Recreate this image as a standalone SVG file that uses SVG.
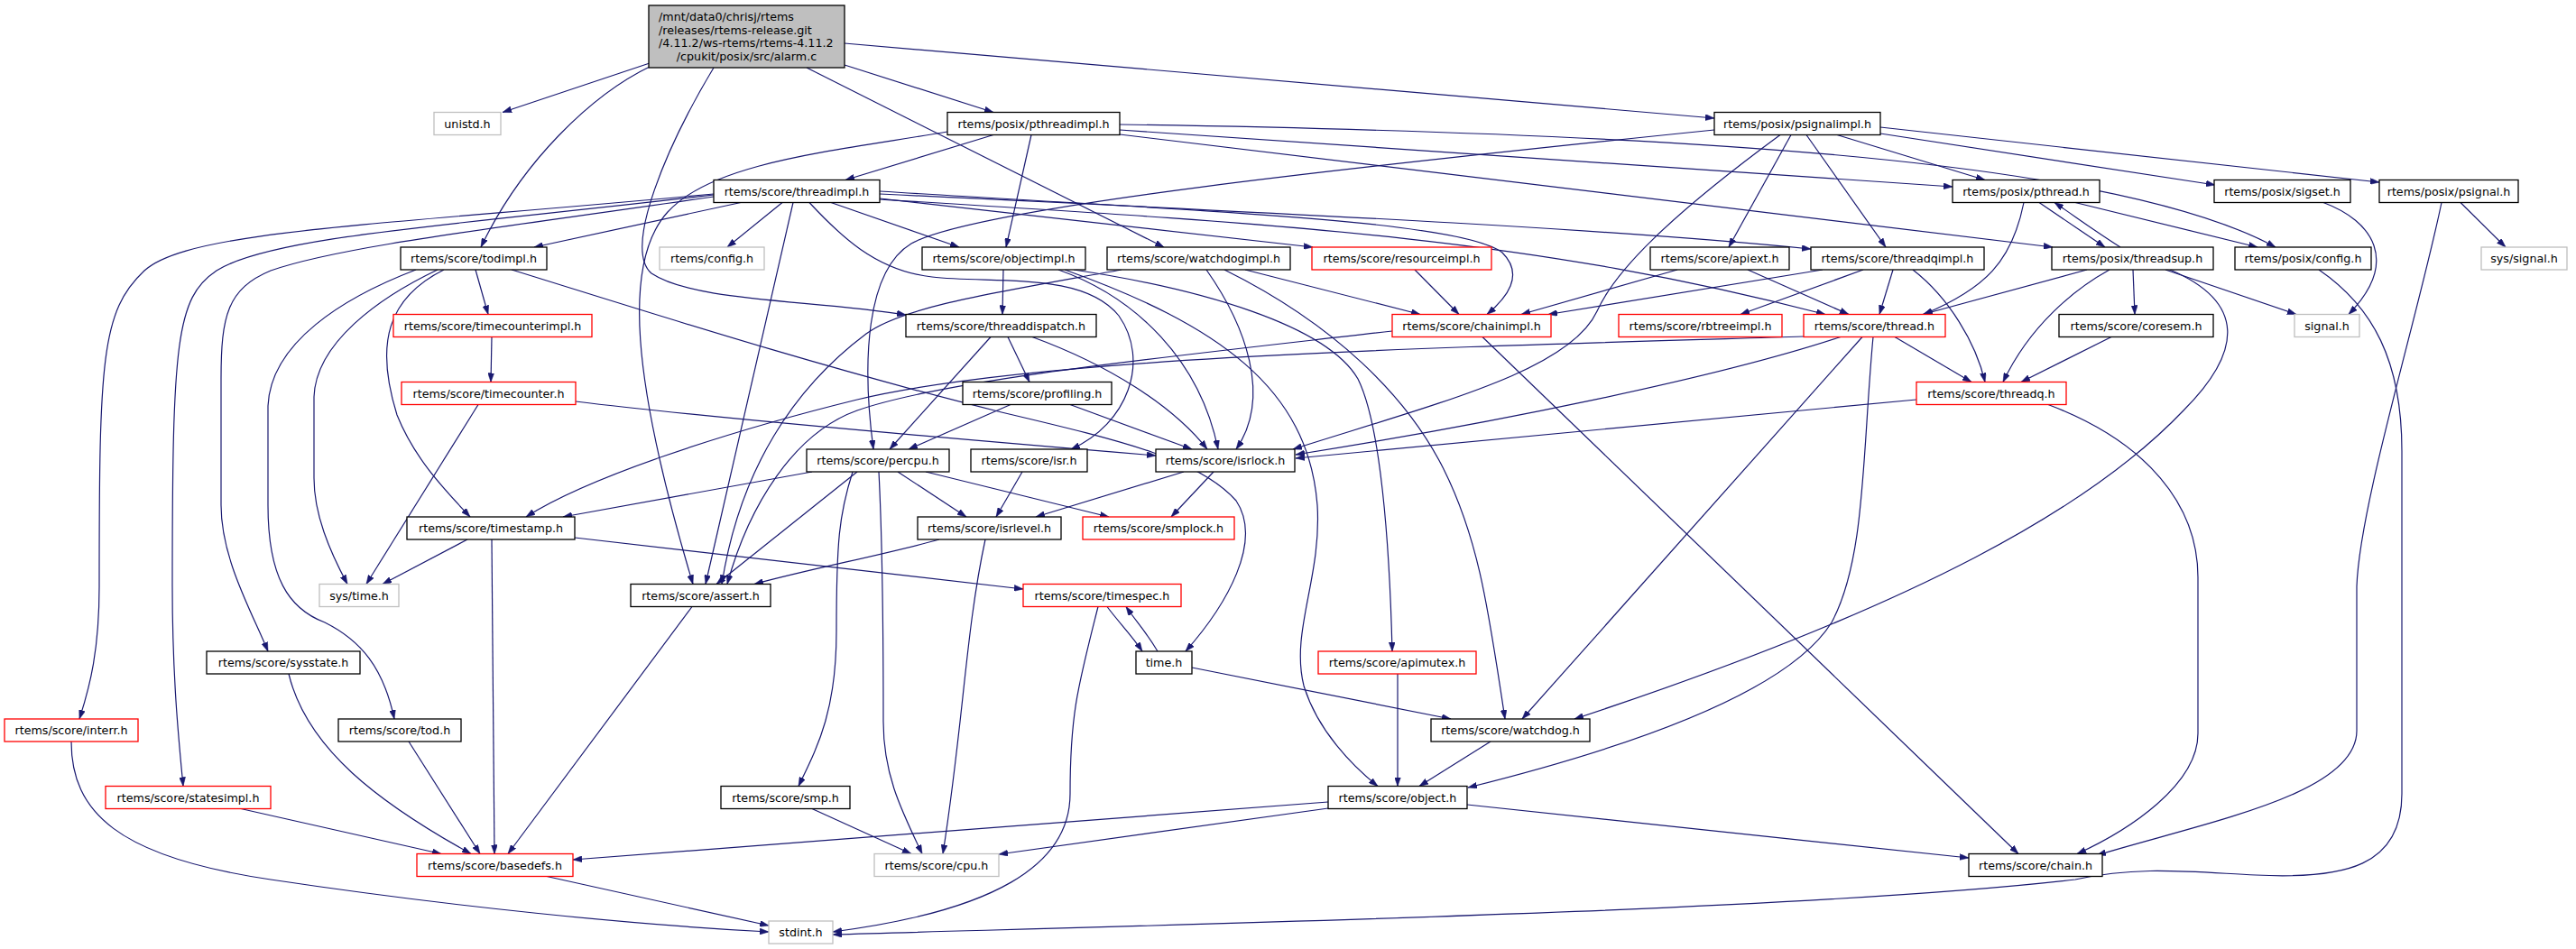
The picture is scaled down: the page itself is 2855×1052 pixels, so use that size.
<svg xmlns="http://www.w3.org/2000/svg" width="2855" height="1052" viewBox="0 0 2855 1052">
<style>
rect{fill:#fff;stroke:#000;stroke-width:1.3}
.r rect{stroke:#ff0000}
.g rect{stroke:#bfbfbf}
.root rect{fill:#bfbfbf}
text{font-family:"DejaVu Sans","Liberation Sans",sans-serif;font-size:12.7px;text-anchor:middle;fill:#000}
.e path{fill:none;stroke:#191970;stroke-width:1.2;marker-end:url(#a)}
</style>
<defs>
<marker id="a" viewBox="0 0 10 7" refX="10" refY="3.5" markerWidth="10" markerHeight="7" markerUnits="userSpaceOnUse" orient="auto"><path d="M0,0L10,3.5L0,7z" fill="#191970" stroke="#191970" stroke-width="0.5"/></marker>
</defs>
<rect x="0" y="0" width="2855" height="1052" style="fill:#fff;stroke:none"/>
<g class="e" id="edges">
<path d="M720,70 L557,124.5"/>
<path d="M722,73 C655,105 578,180 533,274"/>
<path d="M791,75 C740,160 690,275 722,303 C770,335 900,332 1004,349"/>
<path d="M894,75 L1290,274"/>
<path d="M936,72 L1101,124.5"/>
<path d="M936,48 L1900,131"/>
<path d="M1050,146 C920,168 790,180 740,235 C690,290 700,420 768,647.5"/>
<path d="M1101,149.5 L937,199.5"/>
<path d="M1143,149.5 L1115,274"/>
<path d="M1241,138 C1900,148 2350,180 2522,274"/>
<path d="M1241,144 L2164,207"/>
<path d="M1241,149 L2275,274"/>
<path d="M1900,144 C1500,185 1080,230 1010,270 C960,300 955,400 968,498"/>
<path d="M1973,149.5 C1850,240 1790,300 1770,345 C1740,410 1600,445 1433,498"/>
<path d="M2036,149.5 L2200,199.5"/>
<path d="M1985,149.5 L1916,274"/>
<path d="M2002,149.5 L2090,274"/>
<path d="M2084,148 L2455,205"/>
<path d="M2084,141 L2637,202"/>
<path d="M791,215 C420,250 210,255 160,300 C112,345 110,400 110,650 C110,720 100,760 88,797"/>
<path d="M791,216 C500,250 300,262 240,300 C195,330 191,380 191,650 C191,750 198,820 203,871.5"/>
<path d="M791,218 C560,252 380,272 300,300 C252,320 245,350 245,420 L245,560 C245,620 280,680 297,722"/>
<path d="M821,224.5 L592,274"/>
<path d="M867,224.5 L806,274"/>
<path d="M879,224.5 L782,647.5"/>
<path d="M921,224.5 L1063,274"/>
<path d="M897,224.5 C930,260 970,300 1033,307 C1100,315 1200,300 1240,350 C1275,400 1250,470 1187,498"/>
<path d="M975,220 L1455,274"/>
<path d="M975,212 C1350,235 1620,245 1665,280 C1690,305 1670,330 1648,348.5"/>
<path d="M975,215 C1500,240 1800,255 2007,276"/>
<path d="M975,221 C1450,250 1700,265 2023,348.5"/>
<path d="M527,299 L541,348.5"/>
<path d="M461,299 C380,330 300,380 297,450 L297,560 C297,640 320,675 360,690 C400,710 425,740 437,797"/>
<path d="M485,299 C420,330 350,380 348,440 L348,530 C348,570 365,610 385,647.5"/>
<path d="M492,299 C430,330 415,380 440,460 C460,510 495,545 521,573"/>
<path d="M567,299 C700,340 900,405 1110,457 C1250,490 1330,510 1370,555 C1400,600 1360,670 1314,722"/>
<path d="M545,373.5 L544,423.5"/>
<path d="M530,448.5 L406,647.5"/>
<path d="M638,445 C800,465 1100,490 1281,505"/>
<path d="M518,598 L424,647.5"/>
<path d="M545,598 L548,946.5"/>
<path d="M637,596 L1134,653"/>
<path d="M900,523 L624,573"/>
<path d="M950,523 L794,647.5"/>
<path d="M995,523 L1071,573"/>
<path d="M1026,523 L1229,573"/>
<path d="M945,523 C930,570 927,600 927,700 C927,790 905,830 885,871.5"/>
<path d="M974,523 C978,600 979,700 979,800 C979,860 1000,900 1022,946.5"/>
<path d="M1098,373.5 L986,498"/>
<path d="M1117,373.5 L1141,423.5"/>
<path d="M1144,373.5 C1230,405 1300,450 1338,498"/>
<path d="M1120,448.5 L1007,498"/>
<path d="M1186,448.5 L1321,498"/>
<path d="M1133,523 L1104,573"/>
<path d="M1312,523 L1148,573"/>
<path d="M1345,523 L1298,573"/>
<path d="M1041,598 C980,615 900,630 836,647.5"/>
<path d="M1092,598 C1070,700 1068,800 1045,946.5"/>
<path d="M1227,672.5 C1240,690 1255,705 1266,722"/>
<path d="M1217,672.5 C1195,760 1186,790 1186,880 C1186,960 1100,1010 923,1033"/>
<path d="M1283,722 C1270,700 1260,690 1248,672.5"/>
<path d="M1321,740 L1608,797"/>
<path d="M1549,747 L1549,871.5"/>
<path d="M1652,822 L1573,871.5"/>
<path d="M1472,896 L1107,947"/>
<path d="M1472,889 L635,953"/>
<path d="M1626,892 L2182,951"/>
<path d="M900,896.5 L1010,946.5"/>
<path d="M606,971.5 L852,1026"/>
<path d="M79,822 C79,900 130,950 300,975 C500,1005 700,1025 852,1033"/>
<path d="M267,896.5 L489,946.5"/>
<path d="M320,747 C340,830 420,890 522,946.5"/>
<path d="M453,822 L532,946.5"/>
<path d="M767,672.5 L563,946.5"/>
<path d="M1643,373.5 L2237,946.5"/>
<path d="M1543,367 C1300,395 1050,420 950,455 C880,480 830,560 806,647.5"/>
<path d="M1568,299 L1617,348.5"/>
<path d="M1380,299 L1574,348.5"/>
<path d="M1243,299 C1100,325 1000,340 960,370 C880,430 820,520 800,647.5"/>
<path d="M1337,299 C1380,360 1410,440 1370,498"/>
<path d="M1357,299 C1480,360 1560,440 1600,520 C1640,600 1650,680 1668,797"/>
<path d="M1112,299 L1111,348.5"/>
<path d="M1173,299 C1260,330 1330,400 1350,498"/>
<path d="M1180,299 C1350,360 1450,430 1460,560 C1465,640 1430,700 1445,760 C1460,810 1500,850 1527,871.5"/>
<path d="M1190,299 C1330,320 1470,360 1505,420 C1530,470 1540,600 1543,722"/>
<path d="M1859,299 L1686,348.5"/>
<path d="M1937,299 L2049,348.5"/>
<path d="M2020,299 L1716,348.5"/>
<path d="M2065,299 L1929,348.5"/>
<path d="M2098,299 L2083,348.5"/>
<path d="M2120,299 C2160,330 2190,380 2200,423.5"/>
<path d="M2100,373.5 L2185,423.5"/>
<path d="M2040,373.5 C1900,420 1650,470 1436,504"/>
<path d="M1999,373 C1600,385 1150,395 950,443 C800,480 650,530 583,573"/>
<path d="M2064,373.5 L1687,797"/>
<path d="M2076,373.5 C2064,500 2068,620 2030,690 C1980,770 1800,830 1627,873"/>
<path d="M2124,443 L1436,508"/>
<path d="M2270,448.5 C2380,490 2436,560 2436,640 L2436,813 C2436,870 2360,920 2302,946.5"/>
<path d="M2350,274 C2320,255 2300,240 2277,224.5"/>
<path d="M2313,299 L2131,348.5"/>
<path d="M2338,299 C2300,320 2250,360 2220,423.5"/>
<path d="M2364,299 L2366,348.5"/>
<path d="M2400,299 L2545,348.5"/>
<path d="M2405,299 C2490,335 2485,390 2420,455 C2320,560 2130,670 1745,797"/>
<path d="M2260,224.5 L2333,274"/>
<path d="M2243,224.5 C2230,290 2200,320 2132,348.5"/>
<path d="M2300,224.5 L2502,274"/>
<path d="M2575,224.5 C2630,245 2660,290 2603,348.5"/>
<path d="M2727,224.5 L2777,274"/>
<path d="M2706,224.5 C2680,350 2615,560 2612,650 L2612,810 C2612,880 2450,910 2324,948"/>
<path d="M2570,299 C2630,340 2662,400 2662,500 L2662,880 C2662,960 2600,975 2500,970 C2420,966 2370,960 2300,975 C2000,1010 1300,1025 923,1036"/>
<path d="M2340,373.5 L2240,423.5"/>
</g>
<g id="n_alarm" class="root"><rect x="719" y="6" width="217" height="69"/>
<text x="730" y="23" style="text-anchor:start">/mnt/data0/chrisj/rtems</text>
<text x="730" y="37.5" style="text-anchor:start">/releases/rtems-release.git</text>
<text x="730" y="52" style="text-anchor:start">/4.11.2/ws-rtems/rtems-4.11.2</text>
<text x="827.5" y="66.5">/cpukit/posix/src/alarm.c</text></g>
<g id="n_unistd" class="g"><rect x="481" y="124.5" width="74" height="25"/><text x="518" y="141.5">unistd.h</text></g>
<g id="n_pthreadimpl"><rect x="1050" y="124.5" width="191" height="25"/><text x="1145.5" y="141.5">rtems/posix/pthreadimpl.h</text></g>
<g id="n_psignalimpl"><rect x="1900" y="124.5" width="184" height="25"/><text x="1992" y="141.5">rtems/posix/psignalimpl.h</text></g>
<g id="n_threadimpl"><rect x="791" y="199.5" width="184" height="25"/><text x="883" y="216.5">rtems/score/threadimpl.h</text></g>
<g id="n_pthread"><rect x="2164" y="199.5" width="163" height="25"/><text x="2245.5" y="216.5">rtems/posix/pthread.h</text></g>
<g id="n_sigset"><rect x="2454" y="199.5" width="151" height="25"/><text x="2529.5" y="216.5">rtems/posix/sigset.h</text></g>
<g id="n_psignal"><rect x="2637" y="199.5" width="154" height="25"/><text x="2714" y="216.5">rtems/posix/psignal.h</text></g>
<g id="n_todimpl"><rect x="444" y="274" width="162" height="25"/><text x="525" y="291">rtems/score/todimpl.h</text></g>
<g id="n_config" class="g"><rect x="731" y="274" width="116" height="25"/><text x="789" y="291">rtems/config.h</text></g>
<g id="n_objectimpl"><rect x="1022" y="274" width="181" height="25"/><text x="1112.5" y="291">rtems/score/objectimpl.h</text></g>
<g id="n_watchdogimpl"><rect x="1227" y="274" width="203" height="25"/><text x="1328.5" y="291">rtems/score/watchdogimpl.h</text></g>
<g id="n_resourceimpl" class="r"><rect x="1454" y="274" width="199" height="25"/><text x="1553.5" y="291">rtems/score/resourceimpl.h</text></g>
<g id="n_apiext"><rect x="1829" y="274" width="154" height="25"/><text x="1906" y="291">rtems/score/apiext.h</text></g>
<g id="n_threadqimpl"><rect x="2007" y="274" width="192" height="25"/><text x="2103" y="291">rtems/score/threadqimpl.h</text></g>
<g id="n_threadsup"><rect x="2274" y="274" width="179" height="25"/><text x="2363.5" y="291">rtems/posix/threadsup.h</text></g>
<g id="n_posixconfig"><rect x="2477" y="274" width="151" height="25"/><text x="2552.5" y="291">rtems/posix/config.h</text></g>
<g id="n_syssignal" class="g"><rect x="2750" y="274" width="95" height="25"/><text x="2797.5" y="291">sys/signal.h</text></g>
<g id="n_timecounterimpl" class="r"><rect x="436" y="348.5" width="220" height="25"/><text x="546" y="365.5">rtems/score/timecounterimpl.h</text></g>
<g id="n_threaddispatch"><rect x="1004" y="348.5" width="211" height="25"/><text x="1109.5" y="365.5">rtems/score/threaddispatch.h</text></g>
<g id="n_chainimpl" class="r"><rect x="1543" y="348.5" width="176" height="25"/><text x="1631" y="365.5">rtems/score/chainimpl.h</text></g>
<g id="n_rbtreeimpl" class="r"><rect x="1794" y="348.5" width="181" height="25"/><text x="1884.5" y="365.5">rtems/score/rbtreeimpl.h</text></g>
<g id="n_thread" class="r"><rect x="1999" y="348.5" width="157" height="25"/><text x="2077.5" y="365.5">rtems/score/thread.h</text></g>
<g id="n_coresem"><rect x="2282" y="348.5" width="171" height="25"/><text x="2367.5" y="365.5">rtems/score/coresem.h</text></g>
<g id="n_signal" class="g"><rect x="2543" y="348.5" width="72" height="25"/><text x="2579" y="365.5">signal.h</text></g>
<g id="n_timecounter" class="r"><rect x="445" y="423.5" width="193" height="25"/><text x="541.5" y="440.5">rtems/score/timecounter.h</text></g>
<g id="n_profiling"><rect x="1067" y="423.5" width="165" height="25"/><text x="1149.5" y="440.5">rtems/score/profiling.h</text></g>
<g id="n_threadq" class="r"><rect x="2124" y="423.5" width="166" height="25"/><text x="2207" y="440.5">rtems/score/threadq.h</text></g>
<g id="n_percpu"><rect x="894" y="498" width="158" height="25"/><text x="973" y="515">rtems/score/percpu.h</text></g>
<g id="n_isr"><rect x="1076" y="498" width="129" height="25"/><text x="1140.5" y="515">rtems/score/isr.h</text></g>
<g id="n_isrlock"><rect x="1281" y="498" width="154" height="25"/><text x="1358" y="515">rtems/score/isrlock.h</text></g>
<g id="n_timestamp"><rect x="451" y="573" width="186" height="25"/><text x="544" y="590">rtems/score/timestamp.h</text></g>
<g id="n_isrlevel"><rect x="1017" y="573" width="159" height="25"/><text x="1096.5" y="590">rtems/score/isrlevel.h</text></g>
<g id="n_smplock" class="r"><rect x="1200" y="573" width="168" height="25"/><text x="1284" y="590">rtems/score/smplock.h</text></g>
<g id="n_systime" class="g"><rect x="354" y="647.5" width="88" height="25"/><text x="398" y="664.5">sys/time.h</text></g>
<g id="n_assert"><rect x="699" y="647.5" width="155" height="25"/><text x="776.5" y="664.5">rtems/score/assert.h</text></g>
<g id="n_timespec" class="r"><rect x="1134" y="647.5" width="175" height="25"/><text x="1221.5" y="664.5">rtems/score/timespec.h</text></g>
<g id="n_sysstate"><rect x="229" y="722" width="170" height="25"/><text x="314" y="739">rtems/score/sysstate.h</text></g>
<g id="n_time"><rect x="1259" y="722" width="62" height="25"/><text x="1290" y="739">time.h</text></g>
<g id="n_apimutex" class="r"><rect x="1461" y="722" width="175" height="25"/><text x="1548.5" y="739">rtems/score/apimutex.h</text></g>
<g id="n_interr" class="r"><rect x="5" y="797" width="148" height="25"/><text x="79" y="814">rtems/score/interr.h</text></g>
<g id="n_tod"><rect x="375" y="797" width="136" height="25"/><text x="443" y="814">rtems/score/tod.h</text></g>
<g id="n_watchdog"><rect x="1586" y="797" width="176" height="25"/><text x="1674" y="814">rtems/score/watchdog.h</text></g>
<g id="n_statesimpl" class="r"><rect x="117" y="871.5" width="183" height="25"/><text x="208.5" y="888.5">rtems/score/statesimpl.h</text></g>
<g id="n_smp"><rect x="799" y="871.5" width="143" height="25"/><text x="870.5" y="888.5">rtems/score/smp.h</text></g>
<g id="n_object"><rect x="1472" y="871.5" width="154" height="25"/><text x="1549" y="888.5">rtems/score/object.h</text></g>
<g id="n_basedefs" class="r"><rect x="462" y="946.5" width="173" height="25"/><text x="548.5" y="963.5">rtems/score/basedefs.h</text></g>
<g id="n_cpu" class="g"><rect x="969" y="946.5" width="138" height="25"/><text x="1038" y="963.5">rtems/score/cpu.h</text></g>
<g id="n_chain"><rect x="2182" y="946.5" width="148" height="25"/><text x="2256" y="963.5">rtems/score/chain.h</text></g>
<g id="n_stdint" class="g"><rect x="852" y="1021" width="71" height="25"/><text x="887.5" y="1038">stdint.h</text></g>
</svg>
